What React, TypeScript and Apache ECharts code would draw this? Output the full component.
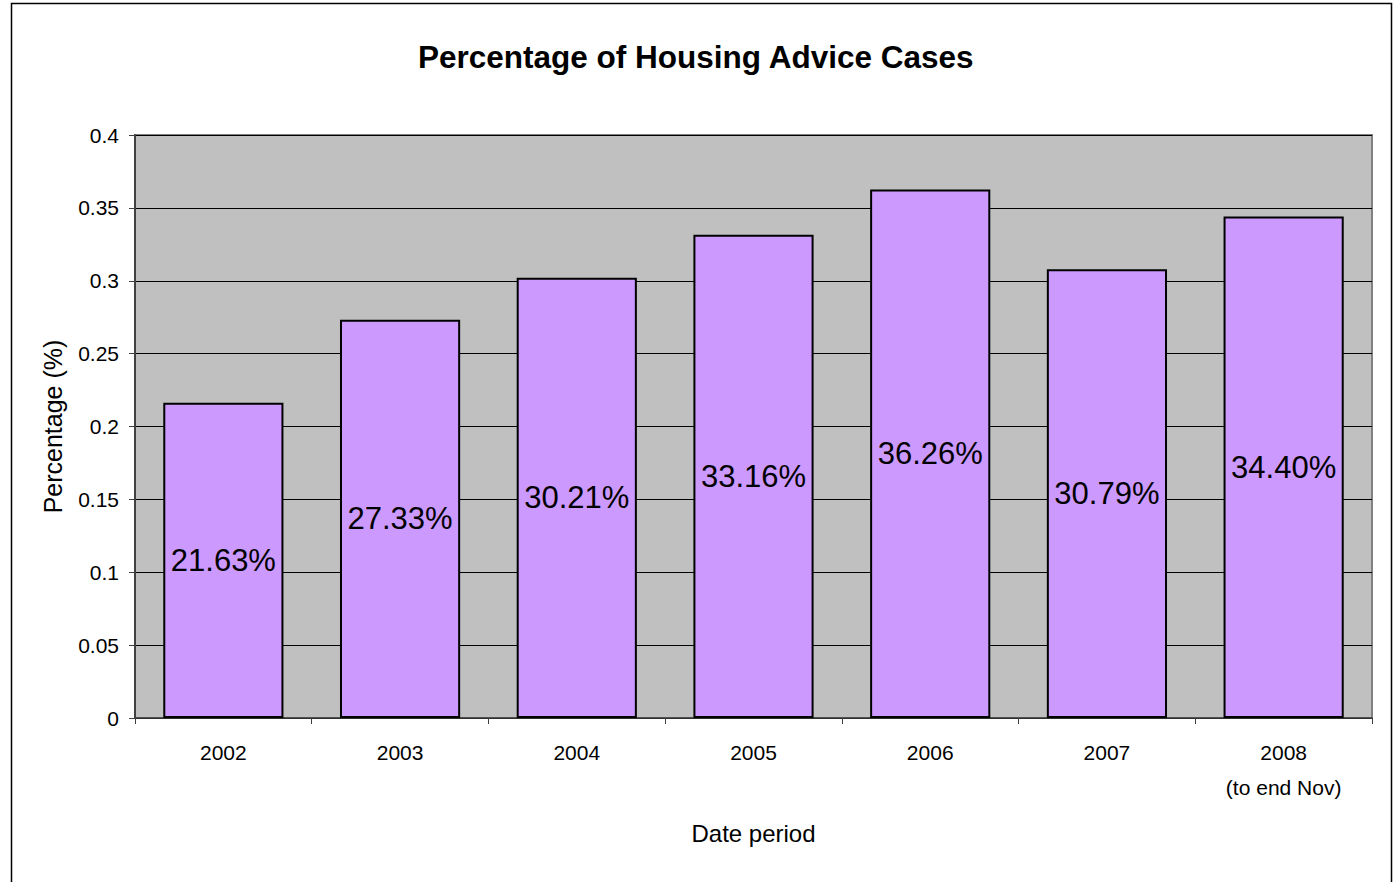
import React, { useEffect, useRef } from "react";
import * as echarts from "echarts";

const categories = ["2002", "2003", "2004", "2005", "2006", "2007", "2008\n(to end Nov)"];
const values = [0.2163, 0.2733, 0.3021, 0.3316, 0.3626, 0.3079, 0.344];
const yTicks = { min: 0, max: 0.4, interval: 0.05 };
const titleText = "Percentage of Housing Advice Cases";
const xName = "Date period";
const yName = "Percentage (%)";

const FONT = "'Liberation Sans', Arial, sans-serif";

export default function App() {
  const ref = useRef<HTMLDivElement>(null);
  useEffect(() => {
    if (!ref.current) return;
    const chart = echarts.init(ref.current, undefined, { renderer: "svg" });
    chart.setOption({
      animation: false,
      backgroundColor: "#ffffff",
      textStyle: { fontFamily: FONT },
      title: {
        text: titleText,
        left: 413,
        top: 36,
        textStyle: { fontFamily: FONT, fontSize: 31.5, fontWeight: "bold", color: "#000" },
      },
      graphic: [
        {
          type: "rect",
          shape: { x: 11.5, y: 3.5, width: 1380, height: 920 },
          style: { fill: "none", stroke: "#000", lineWidth: 1.5 },
          silent: true,
        },
      ],
      grid: {
        left: 135,
        top: 135,
        right: 24,
        bottom: 164,
        show: true,
        backgroundColor: "#C0C0C0",
        borderColor: "#808080",
        borderWidth: 2,
      },
      xAxis: {
        type: "category",
        data: categories,
        name: xName,
        nameLocation: "middle",
        nameGap: 103,
        nameTextStyle: { fontFamily: FONT, fontSize: 24, color: "#000" },
        axisLine: { show: true, lineStyle: { color: "#404040", width: 1.5 } },
        axisTick: { show: true, length: 6, lineStyle: { color: "#404040" } },
        axisLabel: { fontFamily: FONT, fontSize: 21, color: "#000", margin: 17, lineHeight: 35 },
      },
      yAxis: {
        type: "value",
        min: yTicks.min,
        max: yTicks.max,
        interval: yTicks.interval,
        name: yName,
        nameLocation: "middle",
        nameGap: 70,
        nameTextStyle: { fontFamily: FONT, fontSize: 25, color: "#000" },
        axisLine: { show: true, lineStyle: { color: "#404040", width: 2 } },
        axisTick: { show: true, length: 6, lineStyle: { color: "#404040" } },
        axisLabel: { fontFamily: FONT, fontSize: 21, color: "#000", margin: 16 },
        splitLine: { show: true, lineStyle: { color: "#000", width: 1.2 } },
      },
      series: [
        {
          type: "bar",
          data: values,
          barWidth: "68%",
          itemStyle: { color: "#CC99FF", borderColor: "#000", borderWidth: 2 },
          label: {
            show: true,
            position: "inside",
            fontFamily: FONT,
            fontSize: 31,
            color: "#000",
            formatter: (p: any) => (p.value * 100).toFixed(2) + "%",
          },
        },
      ],
    });
    return () => chart.dispose();
  }, []);
  return (
    <div
      ref={ref}
      style={{ position: "absolute", left: 0, top: 0, width: 1396, height: 882 }}
    />
  );
}
